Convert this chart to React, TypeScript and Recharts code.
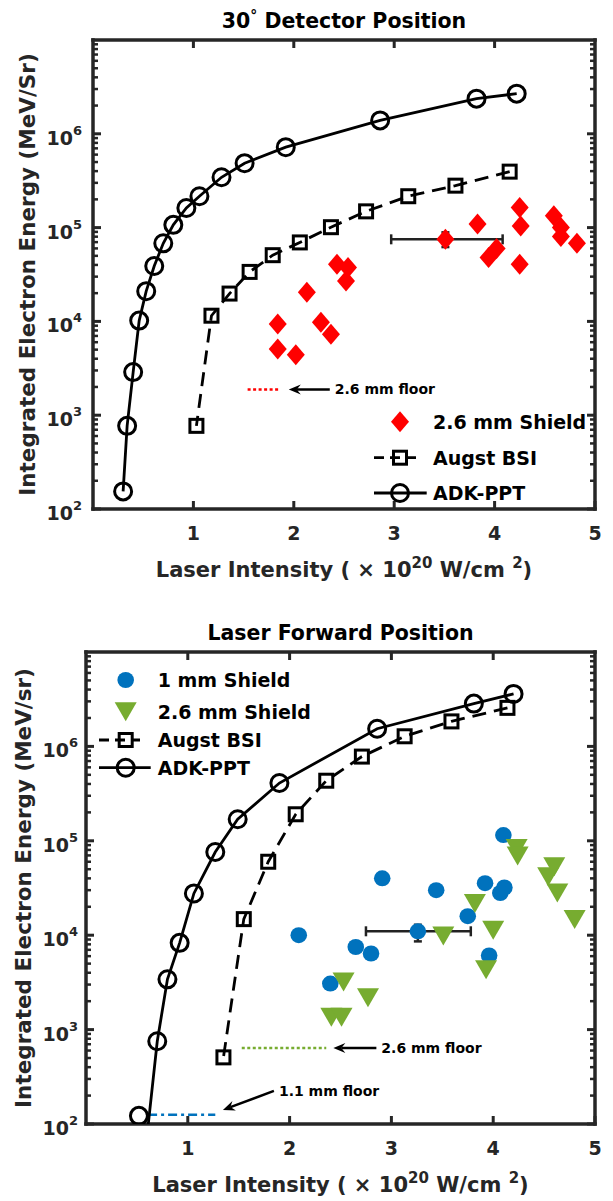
import React from "react";
import {
  ScatterChart,
  Scatter,
  XAxis,
  YAxis,
  ErrorBar,
  ReferenceLine,
  ReferenceDot,
  Legend,
  Label,
} from "recharts";

// Two stacked log-y panels: integrated electron energy vs laser intensity,
// measured shots plus the Augst BSI and ADK-PPT model curves.

const FONT = '"DejaVu Sans", "Liberation Sans", sans-serif';
const AX = "#262626";
const RED = "#ff0000";
const BLUE = "#0072bd";
const GREEN = "#77ac30";
const ERR = "#222222";

const X_TICKS = [1, 2, 3, 4, 5];
const X_TICKS_TOP = [1, 2, 3, 4];
const Y_DECADES = [1e2, 1e3, 1e4, 1e5, 1e6];
const Y_MANTISSAS = [1, 2, 3, 4, 5, 6, 7, 8, 9];
const Y_TICKS = Y_DECADES.flatMap((d) => Y_MANTISSAS.map((m) => m * d));

// ---- top panel: 30 deg detector ----
const ADK_TOP_X = [4.22, 3.82, 2.86, 1.92, 1.51, 1.28, 1.06, 0.93, 0.8, 0.7, 0.61, 0.53, 0.46, 0.4, 0.34, 0.3];
const ADK_TOP_Y = [2.68e6, 2.37e6, 1.39e6, 7.2e5, 4.86e5, 3.44e5, 2.16e5, 1.62e5, 1.07e5, 6.8e4, 3.9e4, 2.1e4, 1.02e4, 2.88e3, 770, 154];

const AUGST_TOP_X = [4.15, 3.61, 3.14, 2.72, 2.37, 2.06, 1.79, 1.56, 1.36, 1.18, 1.03];
const AUGST_TOP_Y = [3.95e5, 2.8e5, 2.16e5, 1.49e5, 1.01e5, 6.95e4, 5.08e4, 3.37e4, 1.98e4, 1.15e4, 770];

const SHIELD26_TOP_X = [4.25, 4.59, 3.83, 4.26, 4.66, 4.66, 4.82, 3.51, 4.02, 3.94, 4.25, 2.43, 2.54, 2.52, 2.13, 1.84, 2.27, 2.37, 1.84, 2.02];
const SHIELD26_TOP_Y = [1.64e5, 1.34e5, 1.09e5, 1.04e5, 1.0e5, 8.05e4, 6.8e4, 7.5e4, 6.0e4, 4.8e4, 4.07e4, 4.07e4, 3.75e4, 2.7e4, 2.04e4, 9.4e3, 9.8e3, 7.3e3, 5.07e3, 4.4e3];

const ERR_TOP_POINT = [3.51, 7.5e4];
const ERR_TOP_X = [0.54, 0.57];
const ERR_TOP_Y = [1.3e4, 1.4e4];

const FLOOR26_TOP_X = [1.54, 1.86];
const FLOOR26_TOP_Y = 1880;
const FLOOR26_TOP_TIP = 1.95;

// ---- bottom panel: laser forward ----
const ADK_BOT_X = [4.2, 3.81, 2.86, 1.9, 1.49, 1.27, 1.06, 0.92, 0.8, 0.7, 0.52];
const ADK_BOT_Y = [3.6e6, 2.84e6, 1.54e6, 4.09e5, 1.69e5, 7.6e4, 2.77e4, 8.3e3, 3.41e3, 752, 122];
// the curve runs on below the axis floor
const ADK_BOT_TAIL = [0.58, 48];

const AUGST_BOT_X = [4.14, 3.59, 3.13, 2.71, 2.36, 2.06, 1.79, 1.55, 1.35];
const AUGST_BOT_Y = [2.56e6, 1.84e6, 1.28e6, 7.8e5, 4.33e5, 1.91e5, 6.0e4, 1.48e4, 508];

const SHIELD1_BOT_X = [4.1, 2.91, 3.44, 3.92, 4.11, 4.07, 2.09, 2.65, 2.8, 3.75, 3.26, 3.96, 2.4];
const SHIELD1_BOT_Y = [1.15e5, 4.0e4, 3.0e4, 3.56e4, 3.2e4, 2.8e4, 1.0e4, 7.5e3, 6.4e3, 1.59e4, 1.1e4, 6.1e3, 3.07e3];

const SHIELD26_BOT_X = [4.23, 4.24, 4.6, 4.54, 4.63, 4.8, 3.82, 4.0, 3.51, 3.93, 2.53, 2.77, 2.41, 2.51];
const SHIELD26_BOT_Y = [8.3e4, 6.9e4, 5.3e4, 4.15e4, 2.8e4, 1.47e4, 2.17e4, 1.13e4, 9.8e3, 4.3e3, 3.2e3, 2.18e3, 1.35e3, 1.35e3];

const ERR_BOT_POINT = [3.26, 1.1e4];
const ERR_BOT_X = [0.51, 0.52];
const ERR_BOT_Y = [2.4e3, 1.9e3];

const FLOOR26_BOT_X = [1.53, 2.36];
const FLOOR26_BOT_Y = 640;
const FLOOR26_BOT_TIP = 2.43;
const FLOOR11_BOT_X = [0.61, 1.27];
const FLOOR11_BOT_Y = 125;
const FLOOR11_BOT_TIP = [1.345, 141];

type Pt = { x: number; y: number };
const zip = (xs: number[], ys: number[]): Pt[] => xs.map((x, i) => ({ x, y: ys[i] }));

// ---- marker shapes ----
const openCircle = (p: any) => (
  <circle cx={p.cx} cy={p.cy} r={8.5} fill="none" stroke="#000" strokeWidth={3} />
);
const openSquare = (p: any) => (
  <rect x={p.cx - 6.5} y={p.cy - 6.5} width={13} height={13} fill="none" stroke="#000" strokeWidth={3} />
);
const redDiamond = (p: any) => (
  <path d={`M${p.cx},${p.cy - 10.5}L${p.cx + 9},${p.cy}L${p.cx},${p.cy + 10.5}L${p.cx - 9},${p.cy}Z`} fill={RED} />
);
const blueDot = (p: any) => <ellipse cx={p.cx} cy={p.cy} rx={8.3} ry={8} fill={BLUE} />;
const greenTri = (p: any) => (
  <path d={`M${p.cx - 11},${p.cy - 9.5}L${p.cx + 11},${p.cy - 9.5}L${p.cx},${p.cy + 9.5}Z`} fill={GREEN} />
);
const noMark = () => <g />;

// ---- axis ticks (drawn inward, MATLAB box style) ----
const makeLeftTick = (gap: number) => (p: any) => {
  const v = p.payload.value;
  const major = Y_DECADES.includes(v);
  return (
    <g>
      <line x1={p.x} x2={p.x + (major ? 8 : 5)} y1={p.y} y2={p.y} stroke={AX} strokeWidth={major ? 3 : 2.5} />
      {major && (
        <text x={p.x - gap} y={p.y + 11} textAnchor="end" fontFamily={FONT} fontWeight="bold" fontSize={19} fill={AX}>
          10
          <tspan dy={-10} fontSize={13}>
            {Math.round(Math.log10(v))}
          </tspan>
        </text>
      )}
    </g>
  );
};
const rightTick = (p: any) => {
  const major = Y_DECADES.includes(p.payload.value);
  return <line x1={p.x} x2={p.x - (major ? 8 : 5)} y1={p.y} y2={p.y} stroke={AX} strokeWidth={major ? 3 : 2.5} />;
};
const bottomTick = (p: any) => (
  <g>
    <line x1={p.x} x2={p.x} y1={p.y} y2={p.y - 8} stroke={AX} strokeWidth={3} />
    <text x={p.x} y={p.y + 31} textAnchor="middle" fontFamily={FONT} fontWeight="bold" fontSize={19} fill={AX}>
      {p.payload.value}
    </text>
  </g>
);
const topTick = (p: any) => <line x1={p.x} x2={p.x} y1={p.y} y2={p.y + 8} stroke={AX} strokeWidth={3} />;

// ---- floor annotation: arrow pointing at the floor line, text at the tail ----
const arrowNote = (text: string, dx: number, dy: number) => (p: any) => {
  const { cx, cy } = p;
  const len = Math.hypot(dx, dy);
  const ux = dx / len;
  const uy = dy / len;
  const nx = -uy;
  const ny = ux;
  const hl = 12;
  const hw = 5;
  const notch = 8;
  const bx = cx + ux * hl;
  const by = cy + uy * hl;
  const head = `M${cx},${cy}L${bx + nx * hw},${by + ny * hw}L${cx + ux * notch},${cy + uy * notch}L${bx - nx * hw},${by - ny * hw}Z`;
  return (
    <g>
      <line x1={cx + ux * notch} y1={cy + uy * notch} x2={cx + dx} y2={cy + dy} stroke="#000" strokeWidth={2.5} />
      <path d={head} fill="#000" />
      <text x={cx + dx + 5} y={cy + dy + 5} fontFamily={FONT} fontWeight="bold" fontSize={14} fill="#000">
        {text}
      </text>
    </g>
  );
};

// ---- legend ----
type Row = { label: string; y: number; mark: (p: any) => React.ReactElement; line?: number[]; dash?: string };

function LegendBox({ rows, markX, textX, w, h }: { rows: Row[]; markX: number; textX: number; w: number; h: number }) {
  return (
    <svg width={w} height={h} style={{ display: "block", overflow: "visible" }}>
      {rows.map((r) => (
        <g key={r.label}>
          {r.line && (
            <line x1={r.line[0]} x2={r.line[1]} y1={r.y} y2={r.y} stroke="#000" strokeWidth={2.8} strokeDasharray={r.dash} />
          )}
          {r.mark({ cx: markX, cy: r.y })}
          <text x={textX} y={r.y + 7} fontFamily={FONT} fontWeight="bold" fontSize={19} fill="#000">
            {r.label}
          </text>
        </g>
      ))}
    </svg>
  );
}

const xLabel = (props: any) => {
  const vb = props.viewBox;
  return (
    <text x={vb.x + vb.width / 2} y={vb.y + 68} textAnchor="middle" fontFamily={FONT} fontWeight="bold" fontSize={21} fill={AX}>
      Laser Intensity ( × 10
      <tspan dy={-9} fontSize={15}>20</tspan>
      <tspan dy={9}> W/cm </tspan>
      <tspan dy={-9} fontSize={15}>2</tspan>
      <tspan dy={9}>)</tspan>
    </text>
  );
};

const makeYLabel = (text: string, x: number) => (props: any) => {
  const vb = props.viewBox;
  const cy = vb.y + vb.height / 2;
  return (
    <text
      x={x}
      y={cy}
      transform={`rotate(-90 ${x} ${cy})`}
      textAnchor="middle"
      fontFamily={FONT}
      fontWeight="bold"
      fontSize={21.5}
      fill={AX}
    >
      {text}
    </text>
  );
};

const makeTitle = (node: React.ReactNode) => (props: any) => {
  const vb = props.viewBox;
  return (
    <text x={vb.x + vb.width / 2} y={vb.y + vb.height - 12} textAnchor="middle" fontFamily={FONT} fontWeight="bold" fontSize={20.5} fill="#000">
      {node}
    </text>
  );
};

const axisLine = { stroke: AX, strokeWidth: 3.5, strokeLinecap: "square" as const };

// main axes plus 1px-thick top/right axes that close the box
function axes(opts: { yWidth: number; xHeight: number; tickGap: number; title: React.ReactNode; yLabel: string; yLabelX: number }) {
  return [
    <XAxis
      key="xb"
      type="number"
      dataKey="x"
      domain={[0, 5]}
      ticks={X_TICKS}
      interval={0}
      allowDataOverflow
      height={opts.xHeight}
      tickSize={0}
      tickMargin={0}
      tickLine={false}
      axisLine={axisLine}
      tick={bottomTick}
    >
      <Label content={xLabel} />
    </XAxis>,
    <XAxis
      key="xt"
      xAxisId="t"
      orientation="top"
      type="number"
      dataKey="x"
      domain={[0, 5]}
      ticks={X_TICKS_TOP}
      interval={0}
      allowDataOverflow
      height={1}
      tickSize={0}
      tickMargin={0}
      tickLine={false}
      axisLine={axisLine}
      tick={topTick}
    >
      <Label content={makeTitle(opts.title)} />
    </XAxis>,
    <YAxis
      key="yl"
      type="number"
      dataKey="y"
      scale="log"
      domain={[1e2, 1e7]}
      ticks={Y_TICKS}
      interval={0}
      allowDataOverflow
      width={opts.yWidth}
      tickSize={0}
      tickMargin={0}
      tickLine={false}
      axisLine={axisLine}
      tick={makeLeftTick(opts.tickGap)}
    >
      <Label content={makeYLabel(opts.yLabel, opts.yLabelX)} />
    </YAxis>,
    <YAxis
      key="yr"
      yAxisId="r"
      orientation="right"
      type="number"
      dataKey="y"
      scale="log"
      domain={[1e2, 1e7]}
      ticks={Y_TICKS}
      interval={0}
      allowDataOverflow
      width={1}
      tickSize={0}
      tickMargin={0}
      tickLine={false}
      axisLine={axisLine}
      tick={rightTick}
    />,
  ];
}

const adkLine = { stroke: "#000", strokeWidth: 2.8 };
const augstLine = { stroke: "#000", strokeWidth: 2.8, strokeDasharray: "14 8" };

export default function App() {
  const topLegend: Row[] = [
    { label: "2.6 mm Shield", y: 21.7, mark: redDiamond },
    { label: "Augst BSI", y: 57.7, mark: openSquare, line: [4, 46.7], dash: "10 6" },
    { label: "ADK-PPT", y: 93, mark: openCircle, line: [4, 56.7] },
  ];
  const botLegend: Row[] = [
    { label: "1 mm Shield", y: 20, mark: blueDot },
    { label: "2.6 mm Shield", y: 51.7, mark: greenTri },
    { label: "Augst BSI", y: 80, mark: openSquare, line: [9, 50], dash: "10 6" },
    { label: "ADK-PPT", y: 107.7, mark: openCircle, line: [9, 60.7] },
  ];

  const topAdk = zip(ADK_TOP_X, ADK_TOP_Y);
  const botAdk = zip(ADK_BOT_X, ADK_BOT_Y);

  return (
    <div style={{ position: "absolute", left: 0, top: 0, width: 613, height: 1201, background: "#fff", fontFamily: FONT }}>
      <div style={{ position: "absolute", left: 0, top: 0 }}>
        <ScatterChart width={613} height={600} margin={{ top: 39, right: 17, bottom: 31, left: 0 }}>
          {axes({
            yWidth: 93,
            xHeight: 60,
            tickGap: 11,
            title: (
              <>
                30
                <tspan dy={-8} fontSize={14}>°</tspan>
                <tspan dy={8}> Detector Position</tspan>
              </>
            ),
            yLabel: "Integrated Electron Energy (MeV/Sr)",
            yLabelX: 35,
          })}
          {/* invisible series bound to the top/right box axes */}
          <Scatter data={topAdk} xAxisId="t" yAxisId="r" shape={noMark} isAnimationActive={false} legendType="none" />
          <ReferenceLine
            segment={[{ x: FLOOR26_TOP_X[0], y: FLOOR26_TOP_Y }, { x: FLOOR26_TOP_X[1], y: FLOOR26_TOP_Y }]}
            stroke={RED}
            strokeWidth={2.5}
            strokeDasharray="3 2.5"
          />
          <ReferenceDot x={FLOOR26_TOP_TIP} y={FLOOR26_TOP_Y} shape={arrowNote("2.6 mm floor", 41, 0)} />
          <Scatter data={topAdk} line={adkLine} lineType="joint" shape={openCircle} isAnimationActive={false} />
          <Scatter data={zip(AUGST_TOP_X, AUGST_TOP_Y)} line={augstLine} lineType="joint" shape={openSquare} isAnimationActive={false} />
          <Scatter data={zip(SHIELD26_TOP_X, SHIELD26_TOP_Y)} shape={redDiamond} isAnimationActive={false} />
          <Scatter
            data={[{ x: ERR_TOP_POINT[0], y: ERR_TOP_POINT[1], ex: ERR_TOP_X, ey: ERR_TOP_Y }]}
            shape={noMark}
            isAnimationActive={false}
          >
            <ErrorBar dataKey="ex" direction="x" width={5} stroke={ERR} strokeWidth={2.5} isAnimationActive={false} />
            <ErrorBar dataKey="ey" direction="y" width={4} stroke={ERR} strokeWidth={2.5} isAnimationActive={false} />
          </Scatter>
          <Legend
            layout="vertical"
            align="center"
            verticalAlign="middle"
            wrapperStyle={{ left: 370, top: 400, width: 230, height: 110 }}
            content={() => <LegendBox rows={topLegend} markX={30} textX={63} w={230} h={110} />}
          />
        </ScatterChart>
      </div>

      <div style={{ position: "absolute", left: 0, top: 600 }}>
        <ScatterChart width={613} height={601} margin={{ top: 51, right: 17, bottom: 27, left: 0 }}>
          {axes({
            yWidth: 86,
            xHeight: 50,
            tickGap: 8,
            title: "Laser Forward Position",
            yLabel: "Integrated Electron Energy (MeV/sr)",
            yLabelX: 31,
          })}
          <Scatter data={botAdk} xAxisId="t" yAxisId="r" shape={noMark} isAnimationActive={false} legendType="none" />
          <ReferenceLine
            segment={[{ x: FLOOR26_BOT_X[0], y: FLOOR26_BOT_Y }, { x: FLOOR26_BOT_X[1], y: FLOOR26_BOT_Y }]}
            stroke={GREEN}
            strokeWidth={2.5}
            strokeDasharray="3 2.5"
          />
          <ReferenceDot x={FLOOR26_BOT_TIP} y={FLOOR26_BOT_Y} shape={arrowNote("2.6 mm floor", 43, 0)} />
          <ReferenceLine
            segment={[{ x: FLOOR11_BOT_X[0], y: FLOOR11_BOT_Y }, { x: FLOOR11_BOT_X[1], y: FLOOR11_BOT_Y }]}
            stroke={BLUE}
            strokeWidth={2.5}
            strokeDasharray="9 4 3 4"
          />
          <ReferenceDot x={FLOOR11_BOT_TIP[0]} y={FLOOR11_BOT_TIP[1]} shape={arrowNote("1.1 mm floor", 51, -19)} />
          <Scatter
            data={[...zip(ADK_BOT_X.slice(0, -1), ADK_BOT_Y.slice(0, -1)), { x: ADK_BOT_TAIL[0], y: ADK_BOT_TAIL[1] }]}
            line={adkLine}
            lineType="joint"
            shape={noMark}
            isAnimationActive={false}
          />
          <Scatter data={botAdk} shape={openCircle} isAnimationActive={false} />
          <Scatter data={zip(AUGST_BOT_X, AUGST_BOT_Y)} line={augstLine} lineType="joint" shape={openSquare} isAnimationActive={false} />
          <Scatter data={zip(SHIELD1_BOT_X, SHIELD1_BOT_Y)} shape={blueDot} isAnimationActive={false} />
          <Scatter data={zip(SHIELD26_BOT_X, SHIELD26_BOT_Y)} shape={greenTri} isAnimationActive={false} />
          <Scatter
            data={[{ x: ERR_BOT_POINT[0], y: ERR_BOT_POINT[1], ex: ERR_BOT_X, ey: ERR_BOT_Y }]}
            shape={noMark}
            isAnimationActive={false}
          >
            <ErrorBar dataKey="ex" direction="x" width={5} stroke={ERR} strokeWidth={2.5} isAnimationActive={false} />
            <ErrorBar dataKey="ey" direction="y" width={4} stroke={ERR} strokeWidth={2.5} isAnimationActive={false} />
          </Scatter>
          <Legend
            layout="vertical"
            align="center"
            verticalAlign="middle"
            wrapperStyle={{ left: 90, top: 60, width: 230, height: 120 }}
            content={() => <LegendBox rows={botLegend} markX={35.7} textX={67.7} w={230} h={120} />}
          />
        </ScatterChart>
      </div>
    </div>
  );
}
